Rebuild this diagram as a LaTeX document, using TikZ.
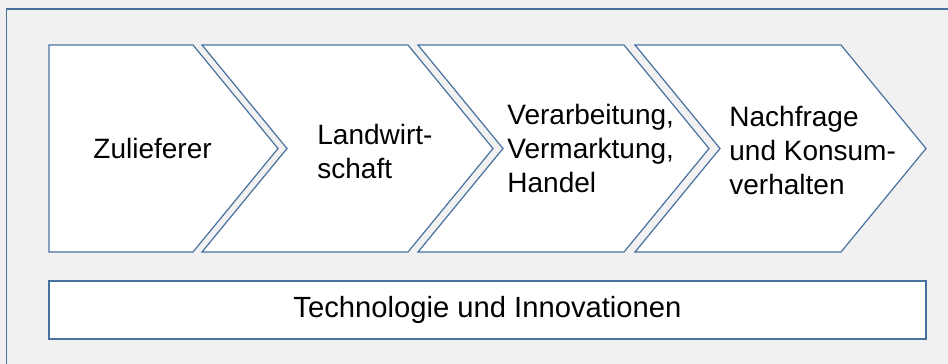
\documentclass[tikz,border=0pt]{standalone}
\usepackage{fontspec}
\setmainfont{Liberation Sans}
\definecolor{frameblue}{RGB}{71,114,160}
\definecolor{bggray}{RGB}{241,241,241}
\tikzset{
  shapeline/.style={draw=frameblue, line width=0.6pt, fill=white, line join=miter},
  label/.style={anchor=west, align=left, inner sep=0pt, font=\fontsize{14}{17}\selectfont},
}
\begin{document}
\begin{tikzpicture}[x=0.5pt, y=-0.5pt]
\useasboundingbox (0,0) rectangle (948,364);
% background frame
\fill[bggray] (0,0) rectangle (948,364);
\draw[frameblue, line width=0.6pt, fill=bggray] (6.5,380) -- (6.5,9) -- (960,9);
% chevrons
\draw[shapeline] (49,45) -- (193,45) -- (278,148.5) -- (193,252) -- (49,252) -- cycle;
\draw[shapeline] (202,45) -- (408,45) -- (493,148.5) -- (408,252) -- (202,252) -- (287,148.5) -- cycle;
\draw[shapeline] (418,45) -- (624,45) -- (709,148.5) -- (624,252) -- (418,252) -- (503,148.5) -- cycle;
\draw[shapeline] (635,45) -- (841,45) -- (926,148.5) -- (841,252) -- (635,252) -- (720,148.5) -- cycle;
% labels
\node[label] (zul) at (93,148.5) {Zulieferer};
\node[label] (lw) at (317,151) {Landwirt-\\schaft};
\node[label] (vv) at (507,148) {Verarbeitung,\\Vermarktung,\\Handel};
\node[label] (nk) at (729,150) {Nachfrage\\und Konsum-\\verhalten};
% bottom box
\node[shapeline, minimum width=438.5pt, minimum height=29pt, inner sep=0pt,
      font=\fontsize{14.6}{17}\selectfont] (tech) at (487.5,310) {Technologie und Innovationen};
\end{tikzpicture}
\end{document}
